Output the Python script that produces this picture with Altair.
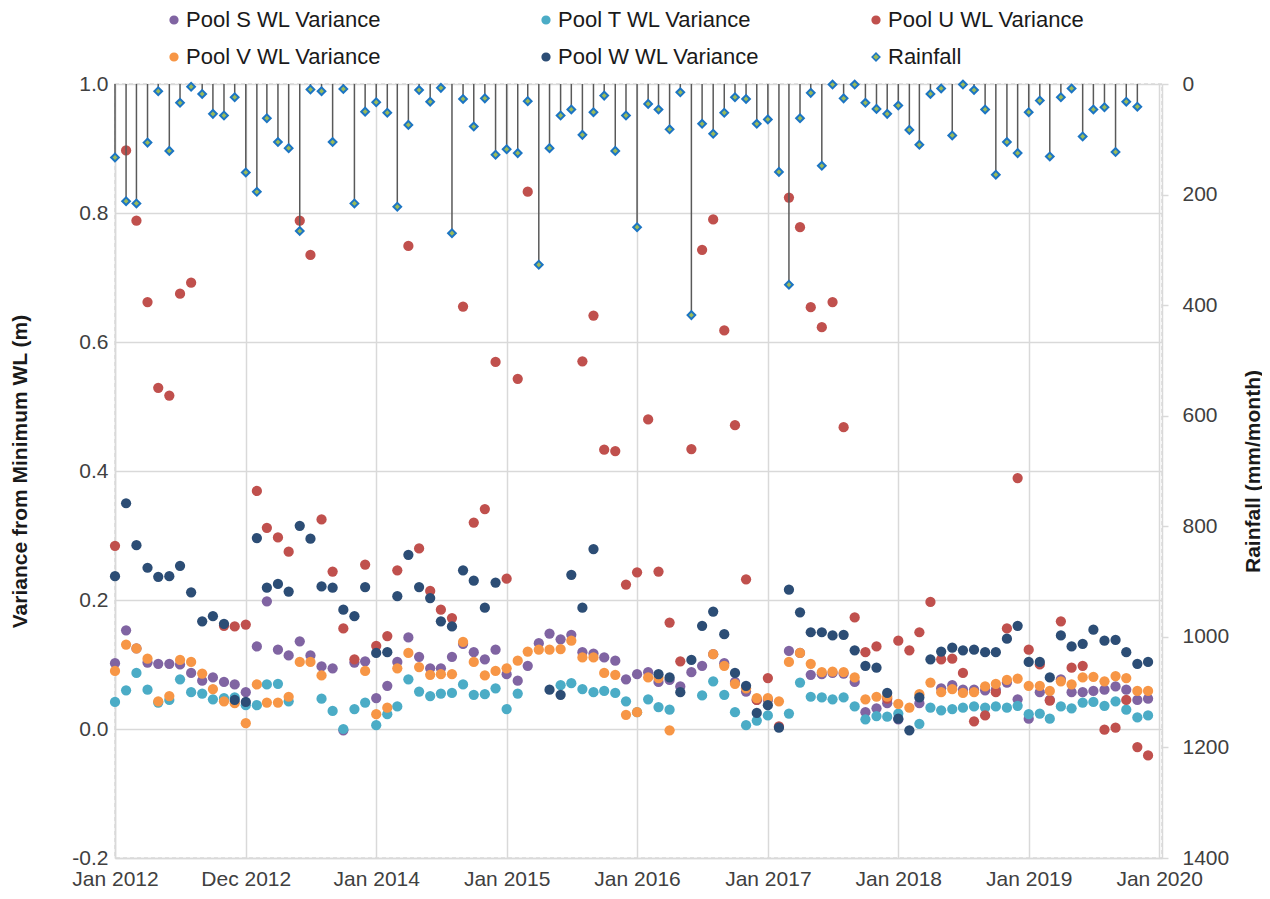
import altair as alt
import pandas as pd

# ---------------- data ----------------
months = pd.date_range("2012-01-01", periods=96, freq="MS").strftime("%Y-%m-%d").tolist()

series_names = ["Pool S WL Variance", "Pool T WL Variance", "Pool U WL Variance",
                "Pool V WL Variance", "Pool W WL Variance", "Rainfall"]

rain = [133, 212, 216, 106, 13, 121, 34, 5, 18, 54, 57, 24,
        160, 195, 62, 105, 116, 266, 10, 13, 105, 9, 216, 50,
        33, 52, 222, 74, 11, 32, 7, 270, 27, 77, 26, 128,
        118, 125, 31, 327, 116, 57, 46, 92, 51, 21, 121, 57,
        259, 36, 46, 82, 15, 418, 72, 90, 52, 24, 27, 72,
        64, 159, 363, 62, 16, 148, 1, 26, 1, 34, 45, 54,
        39, 83, 110, 18, 8, 93, 1, 11, 46, 164, 105, 125,
        51, 30, 131, 24, 8, 95, 46, 42, 123, 32, 41]

pool_s = [0.102, 0.153, 0.125, 0.103, 0.101, 0.101, 0.100, 0.087, 0.075, 0.080, 0.073, 0.069,
          0.057, 0.128, 0.198, 0.123, 0.114, 0.136, 0.114, 0.097, 0.094, -0.002, 0.103, 0.105,
          0.048, 0.067, 0.104, 0.142, 0.112, 0.094, 0.094, 0.112, 0.132, 0.119, 0.108, 0.123,
          0.085, 0.075, 0.098, 0.133, 0.148, 0.139, 0.146, 0.119, 0.117, 0.111, 0.106, 0.077,
          0.085, 0.088, 0.073, 0.076, 0.066, 0.088, 0.098, 0.116, 0.102, 0.073, 0.058, 0.045,
          0.045, None, 0.121, 0.118, 0.084, 0.085, 0.087, 0.086, 0.073, 0.026, 0.032, 0.040,
          0.015, None, 0.040, None, 0.063, 0.068, 0.061, 0.061, 0.060, 0.061, 0.072, 0.046,
          0.016, 0.057, 0.045, 0.077, 0.057, 0.057, 0.059, 0.061, 0.066, 0.061, 0.045, 0.047]

pool_t = [0.042, 0.060, 0.087, 0.061, 0.041, 0.045, 0.077, 0.057, 0.055, 0.046, 0.048, 0.049,
          0.037, 0.037, 0.069, 0.070, 0.043, None, None, 0.047, 0.028, 0.000, 0.031, 0.041,
          0.006, 0.023, 0.035, 0.077, 0.058, 0.051, 0.055, 0.056, 0.069, 0.053, 0.054, 0.063,
          0.031, 0.055, None, None, None, 0.068, 0.071, 0.062, 0.057, 0.059, 0.056, 0.043,
          0.026, 0.046, 0.034, 0.030, None, None, 0.052, 0.074, 0.053, 0.026, 0.006, 0.013,
          0.021, None, 0.024, 0.072, 0.050, 0.049, 0.046, 0.049, 0.035, 0.015, 0.020, 0.019,
          0.024, None, 0.008, 0.033, 0.029, 0.031, 0.033, 0.035, 0.033, 0.035, 0.033, 0.036,
          0.023, 0.024, 0.016, 0.035, 0.032, 0.041, 0.042, 0.036, 0.043, 0.030, 0.018, 0.021]

pool_u = [0.284, 0.897, 0.788, 0.662, 0.529, 0.517, 0.675, 0.692, None, None, 0.160, 0.159,
          0.162, 0.369, 0.312, 0.297, 0.275, 0.788, 0.735, 0.325, 0.244, 0.156, 0.108, 0.255,
          0.129, 0.144, 0.246, 0.749, 0.280, 0.214, 0.185, 0.172, 0.655, 0.320, 0.341, 0.569,
          0.233, 0.543, 0.833, None, None, None, None, 0.570, 0.641, 0.433, 0.431, 0.224,
          0.243, 0.480, 0.244, 0.165, 0.105, 0.434, 0.743, 0.790, 0.618, 0.471, 0.232, 0.045,
          0.079, 0.004, 0.824, 0.778, 0.654, 0.623, 0.662, 0.468, 0.173, 0.119, 0.128, 0.047,
          0.137, 0.122, 0.150, 0.197, 0.108, 0.109, 0.087, 0.012, 0.021, 0.057, 0.156, 0.389,
          0.123, 0.100, 0.044, 0.167, 0.095, 0.098, None, -0.001, 0.002, 0.045, -0.028, -0.041]

pool_v = [0.090, 0.131, 0.125, 0.109, 0.043, 0.051, 0.107, 0.104, 0.086, 0.062, 0.043, 0.040,
          0.009, 0.069, 0.041, 0.041, 0.050, 0.104, 0.104, 0.083, None, None, None, 0.090,
          0.023, 0.033, 0.094, 0.118, 0.096, 0.084, 0.085, 0.085, 0.135, 0.104, 0.083, 0.090,
          0.094, 0.106, 0.120, 0.123, 0.123, 0.124, 0.137, 0.111, 0.111, 0.087, 0.084, 0.022,
          0.026, 0.080, 0.079, -0.002, None, None, None, 0.116, 0.098, 0.070, 0.063, 0.048,
          0.048, 0.043, 0.104, 0.118, 0.101, 0.088, 0.089, 0.088, 0.080, 0.046, 0.050, 0.050,
          0.039, 0.033, 0.054, 0.072, 0.057, 0.062, 0.056, 0.057, 0.066, 0.070, 0.076, 0.078,
          0.067, 0.067, 0.059, 0.074, 0.069, 0.080, 0.081, 0.074, 0.082, 0.079, 0.059, 0.059]

pool_w = [0.237, 0.350, 0.285, 0.250, 0.236, 0.237, 0.253, 0.212, 0.167, 0.175, 0.163, 0.045,
          0.042, 0.296, 0.219, 0.225, 0.213, 0.315, 0.295, 0.221, 0.219, 0.185, 0.175, 0.220,
          0.118, 0.119, 0.206, 0.270, 0.220, 0.203, 0.167, 0.159, 0.246, 0.230, 0.188, 0.227,
          None, None, None, None, 0.061, 0.053, 0.239, 0.188, 0.279, None, None, None,
          None, None, 0.085, 0.080, 0.057, 0.107, 0.160, 0.182, 0.147, 0.087, 0.067, 0.025,
          0.037, 0.002, 0.216, 0.181, 0.150, 0.150, 0.145, 0.146, 0.122, 0.098, 0.095, 0.056,
          0.016, -0.002, 0.049, 0.108, 0.120, 0.126, 0.122, 0.123, 0.119, 0.119, 0.140, 0.160,
          0.104, 0.104, 0.080, 0.145, 0.128, 0.132, 0.154, 0.137, 0.138, 0.119, 0.101, 0.104]

left_ticks = [-0.2, 0.0, 0.2, 0.4, 0.6, 0.8, 1.0]
right_ticks = [0, 200, 400, 600, 800, 1000, 1200, 1400]
tick_years = list(range(2012, 2021))

# ---------------- tables ----------------
rows = []
for name, vals in zip(series_names[:5], [pool_s, pool_t, pool_u, pool_v, pool_w]):
    for d, v in zip(months, vals):
        if v is not None:
            rows.append({"date": d, "series": name, "value": v})
pools = pd.DataFrame(rows)
rain_df = pd.DataFrame({"date": months[:len(rain)], "rain": rain, "series": "Rainfall"})

# ---------------- styling ----------------
FONT = "Liberation Sans"
GRID = "#D9D9D9"
fills = ["#8064A2", "#4BACC6", "#C0504D", "#F79646", "#2C4D75", "#9BBB59"]
strokes = ["#8064A2", "#4BACC6", "#C0504D", "#F79646", "#2C4D75", "#1C75C3"]
shapes = ["circle", "circle", "circle", "circle", "circle", "diamond"]

pad = "\u2800" * 3   # blank (non-whitespace) characters to widen the first legend column
legend = alt.Legend(
    title=None, orient="none", legendX=48, legendY=-75, columns=3, direction="horizontal",
    gridAlign="each", columnPadding=105, rowPadding=15, padding=0,
    labelFont=FONT, labelFontSize=22, labelColor="#1a1a1a", labelOffset=1,
    symbolSize=60, symbolStrokeWidth=1.5, labelLimit=400,
    labelExpr=("(datum.label == 'Pool S WL Variance' || datum.label == 'Pool V WL Variance')"
               f" ? datum.label + '{pad}' : datum.label"),
)

x_enc = alt.X(
    "date:T",
    scale=alt.Scale(type="utc", domain=[alt.DateTime(year=2012, month=1, date=1, utc=True),
                                        alt.DateTime(year=2020, month=1, date=9, utc=True)]),
    axis=alt.Axis(
        values=[alt.DateTime(year=y, month=1, date=1, utc=True) for y in tick_years],
        labelExpr="utcyear(datum.value) == 2013 ? 'Dec 2012' : utcFormat(datum.value, '%b %Y')",
        title=None, grid=True, gridColor=GRID, gridWidth=1.5, ticks=False, tickSize=0,
        domainColor=GRID, domainWidth=1.5, labelFont=FONT, labelFontSize=21,
        labelColor="#404040", labelPadding=10, labelFlush=False, labelOverlap=False,
    ),
)

fill_enc = alt.Fill("series:N", scale=alt.Scale(domain=series_names, range=fills), legend=legend)
stroke_enc = alt.Stroke("series:N", scale=alt.Scale(domain=series_names, range=strokes), legend=legend)
shape_enc = alt.Shape("series:N", scale=alt.Scale(domain=series_names, range=shapes), legend=legend)

rain_scale = alt.Scale(domain=[0, 1400], reverse=True, nice=False, zero=True)
rain_axis = alt.Axis(
    orient="right", values=right_ticks, format="d", grid=False, tickSize=6, tickColor=GRID,
    tickWidth=1.5, domainColor=GRID, domainWidth=1.5, labelFont=FONT, labelFontSize=21,
    labelColor="#404040", labelPadding=14, title="Rainfall (mm/month)", titleFont=FONT,
    titleFontSize=21, titleFontWeight="bold", titleColor="#1a1a1a", titleAngle=270,
    titleX=91, titleY=387, titleAlign="center", titleBaseline="middle",
)

stems = alt.Chart(rain_df).mark_rule(color="#595959", strokeWidth=1.5).encode(
    x=x_enc,
    y=alt.Y("rain:Q", scale=rain_scale, axis=rain_axis),
    y2=alt.datum(0),
)
diamonds = alt.Chart(rain_df).mark_point(filled=True, size=60, strokeWidth=2, opacity=1).encode(
    x=x_enc,
    y=alt.Y("rain:Q", scale=rain_scale, axis=rain_axis),
    fill=fill_enc, stroke=stroke_enc, shape=shape_enc,
)

points = alt.Chart(pools).mark_point(filled=True, size=105, strokeWidth=0, opacity=1).encode(
    x=x_enc,
    y=alt.Y("value:Q", scale=alt.Scale(domain=[-0.2, 1.0], nice=False, zero=False),
            axis=alt.Axis(
                orient="left", values=left_ticks,
                labelExpr="datum.value < 0 ? '-' + format(-datum.value, '.1f') : format(datum.value, '.1f')",
                grid=True, gridColor=GRID, gridWidth=1.5, ticks=False, tickSize=0,
                domainColor=GRID, domainWidth=1.5, labelFont=FONT, labelFontSize=21,
                labelColor="#404040", labelPadding=7,
                title="Variance from Minimum WL (m)", titleFont=FONT, titleFontSize=21,
                titleFontWeight="bold", titleColor="#1a1a1a",
                titleX=-95, titleY=387, titleAlign="center", titleBaseline="middle")),
    fill=fill_enc, stroke=stroke_enc, shape=shape_enc,
)

chart = alt.layer(
    points,
    alt.layer(stems, diamonds),
).resolve_scale(y="independent").properties(
    width=1047, height=774,
    autosize=alt.AutoSizeParams(type="none"),
    padding={"left": 107, "top": 76, "right": 100, "bottom": 30},
).configure_view(
    stroke=GRID, strokeDash=[4, 3], strokeWidth=1.5,
)

chart.save("out.html", embed_options={"renderer": "svg", "actions": False})
